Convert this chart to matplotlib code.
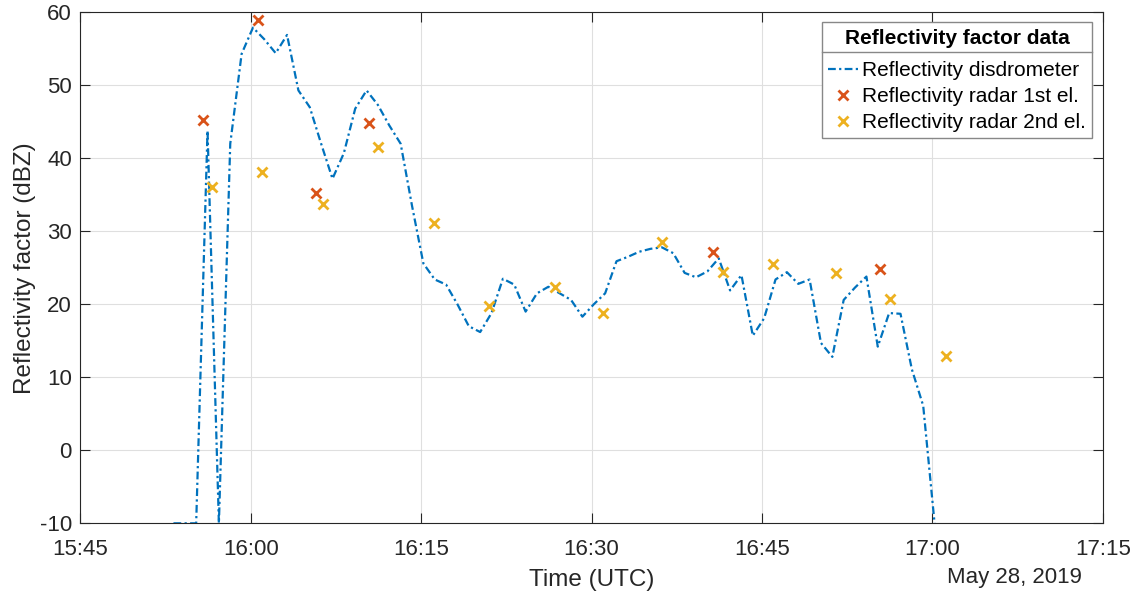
import numpy as np
import pandas as pd
import matplotlib
matplotlib.use('Agg')
import matplotlib.pyplot as plt
import matplotlib.dates as mdates
from matplotlib.lines import Line2D

plt.rcParams['font.family'] = ['Liberation Sans', 'DejaVu Sans']
plt.rcParams['axes.unicode_minus'] = False

# disdrometer: one sample per minute, 15:53:12 .. 17:00:12
disdro_start = '2019-05-28 15:53:12'
disdro_dbz = [-10, -10, -10, 43.8, -10, 42.0, 54.3, 57.9, 56.3, 54.4,
              56.9, 49.3, 47.0, 42.0, 37.2, 40.7, 46.8, 49.3, 47.3, 44.5,
              42.0, 33.5, 25.6, 23.4, 22.7, 20.0, 17.0, 16.2, 18.8, 23.5,
              22.7, 19.0, 21.5, 22.4, 21.5, 20.6, 18.3, 20.0, 21.5, 25.9,
              26.5, 27.2, 27.6, 27.8, 27.0, 24.3, 23.7, 24.5, 26.3, 21.9,
              24.0, 15.7, 18.1, 23.4, 24.4, 22.8, 23.4, 14.7, 12.8, 20.6,
              22.3, 23.8, 14.2, 18.8, 18.7, 11.1, 6.1, -10]

radar1_time = ['15:55:48', '16:00:39', '16:05:47', '16:10:25', '16:40:44', '16:55:25']
radar1_dbz = [45.3, 59.0, 35.3, 44.9, 27.1, 24.9]

radar2_time = ['15:56:35', '16:01:00', '16:06:22', '16:11:13', '16:16:09', '16:21:00',
               '16:26:47', '16:31:02', '16:36:14', '16:41:34', '16:46:01', '16:51:31',
               '16:56:18', '17:01:14']
radar2_dbz = [36.0, 38.1, 33.7, 41.6, 31.2, 19.8, 22.4, 18.8, 28.6, 24.4, 25.5, 24.3,
              20.7, 12.9]

day = '2019-05-28 '
disdro_time = pd.date_range(disdro_start, periods=len(disdro_dbz), freq='1min')
r1_t = pd.to_datetime([day + t for t in radar1_time])
r2_t = pd.to_datetime([day + t for t in radar2_time])

c_blue = '#0072BD'
c_red = '#D95319'
c_yel = '#EDB120'
c_ax = '#262626'

fig = plt.figure(figsize=(11.4, 5.96), dpi=100)
ax = fig.add_axes([80.3 / 1140, 1 - 523.3 / 596, 1022.4 / 1140, 511 / 596])

ax.plot(disdro_time, disdro_dbz, color=c_blue, lw=1.6, dashes=(3.5, 1.5, 1.0, 1.5),
        label='Reflectivity disdrometer')
ax.plot(r1_t, radar1_dbz, 'x', color=c_red, ms=7.5, mew=2, ls='none',
        label='Reflectivity radar 1st el.')
ax.plot(r2_t, radar2_dbz, 'x', color=c_yel, ms=7.5, mew=2, ls='none',
        label='Reflectivity radar 2nd el.')

ax.set_xlim(pd.Timestamp(day + '15:45'), pd.Timestamp(day + '17:15'))
ax.set_ylim(-10, 60)
ax.set_yticks(np.arange(-10, 61, 10))
ax.xaxis.set_major_locator(mdates.MinuteLocator(byminute=[0, 15, 30, 45]))
ax.xaxis.set_major_formatter(mdates.DateFormatter('%H:%M'))

ax.grid(True, color='#dfdfdf', lw=0.8)
ax.set_axisbelow(True)
for s in ax.spines.values():
    s.set_color(c_ax)
    s.set_linewidth(0.8)
ax.tick_params(direction='in', length=7, width=0.8, color=c_ax, labelcolor=c_ax,
               labelsize=16, top=True, right=True)
ax.tick_params(axis='x', pad=11)
ax.tick_params(axis='y', pad=6)

ax.set_xlabel('Time (UTC)', fontsize=17.5, color=c_ax, labelpad=7)
ax.set_ylabel('Reflectivity factor (dBZ)', fontsize=17.5, color=c_ax, labelpad=3)
fig.text(1082 / 1140, 1 - 578 / 596, 'May 28, 2019', ha='right', va='center',
         fontsize=16, color=c_ax)

leg = ax.legend(loc='upper right', bbox_to_anchor=(0.9898, 0.9804), borderaxespad=0,
                fontsize=15, title='Reflectivity factor data', fancybox=False,
                edgecolor='#888888', framealpha=1, handlelength=1.45, handletextpad=0.2,
                labelspacing=0.33, borderpad=0.3)
leg.get_title().set_fontweight('bold')
leg.get_title().set_fontsize(15)
leg.get_frame().set_linewidth(1.0)
leg._legend_box.sep = 10

# separator line under the legend title
fig.canvas.draw()
inv = fig.transFigure.inverted()
fb = leg.get_frame().get_window_extent()
tb = leg.get_title().get_window_extent()
ysep = tb.y0 - 4
(x0, y0), (x1, _) = inv.transform([(fb.x0, ysep), (fb.x1, ysep)])
fig.add_artist(Line2D([x0, x1], [y0, y0], color='#888888', lw=1.0))

fig.savefig('out.png', dpi=100)
